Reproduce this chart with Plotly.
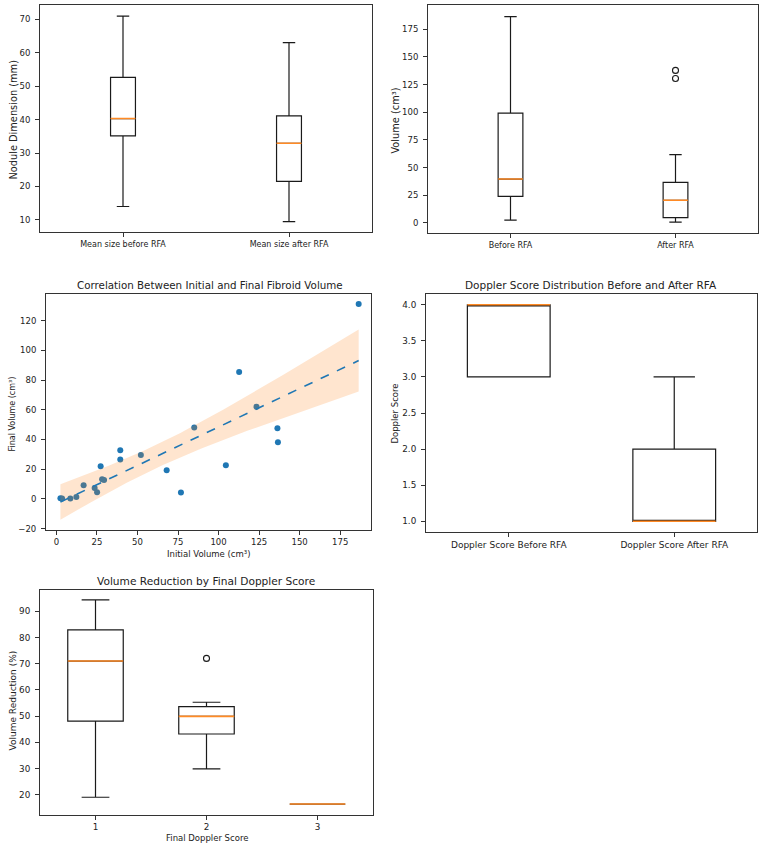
import numpy as np
import plotly.graph_objects as go

W, H = 767, 846
FONT = "DejaVu Sans"

# ---------------- Data ----------------
# Panel A: nodule dimension (mm)
size_labels = ["Mean size before RFA", "Mean size after RFA"]
size_lower = [14.0, 9.5]
size_q1 = [35.1, 21.5]
size_median = [40.3, 32.9]
size_q3 = [52.6, 41.1]
size_upper = [70.9, 63.0]

# Panel B: volume (cm³)
vol_labels = ["Before RFA", "After RFA"]
vol_lower = [2.4, 0.6]
vol_q1 = [24.0, 4.8]
vol_median = [39.6, 20.4]
vol_q3 = [99.2, 36.6]
vol_upper = [186.4, 61.7]
vol_outlier_pos = [2, 2]
vol_outlier_val = [130.4, 137.8]

# Panel C: initial vs final volume
initial_volume = [2.5, 3.5, 8.6, 12.3, 16.8, 23.6, 25.1, 27.3, 28.2, 29.4, 39.4, 39.4,
                  52.1, 68.0, 76.8, 85.0, 104.5, 112.7, 123.4, 136.3, 136.6, 186.4]
final_volume = [0.4, 0.2, 0.3, 1.3, 9.2, 7.4, 4.5, 21.9, 13.3, 12.7, 32.7, 26.5,
                29.6, 19.3, 4.3, 48.1, 22.6, 85.3, 62.0, 47.5, 38.1, 131.2]
T_CRIT = 2.086  # t(0.975, df=20)

# Panel D: Doppler score
dop_labels = ["Doppler Score Before RFA", "Doppler Score After RFA"]
dop_lower = [3.0, 1.0]
dop_q1 = [3.0, 1.0]
dop_median = [4.0, 1.0]
dop_q3 = [4.0, 2.0]
dop_upper = [4.0, 3.0]

# Panel E: volume reduction by final Doppler score
red_labels = ["1", "2", "3"]
red_lower = [19.1, 29.9, 16.5]
red_q1 = [48.1, 43.2, 16.5]
red_median = [71.0, 49.9, 16.5]
red_q3 = [82.9, 53.6, 16.5]
red_upper = [94.3, 55.3, 16.5]
red_outlier_pos = [2]
red_outlier_val = [72.0]

# ---------------- Helpers ----------------
def fx(px):
    return px / W

def fy(py):
    return 1 - py / H

fig = go.Figure()
BOXLINE = "#1a1a1a"
ORANGE = "#ff8a24"
BLUE = "#1f77b4"


def add_box(xa, ya, pos, q1, med, q3, lo, hi, width):
    fig.add_trace(go.Box(
        x=pos, q1=q1, median=med, q3=q3, lowerfence=lo, upperfence=hi,
        width=width, whiskerwidth=0.5, fillcolor="rgba(0,0,0,0)",
        line=dict(color=BOXLINE, width=1.2), boxpoints=False,
        xaxis=xa, yaxis=ya, showlegend=False, hoverinfo="skip"))
    mx, my = [], []
    for p, m in zip(pos, med):
        mx += [p - width / 2, p + width / 2, None]
        my += [m, m, None]
    fig.add_trace(go.Scatter(x=mx, y=my, mode="lines",
                             line=dict(color=ORANGE, width=1.6),
                             xaxis=xa, yaxis=ya, showlegend=False, hoverinfo="skip"))


def add_outliers(xa, ya, pos, vals):
    fig.add_trace(go.Scatter(x=pos, y=vals, mode="markers",
                             marker=dict(symbol="circle-open", color=BOXLINE, size=6,
                                         line=dict(width=1.1)),
                             xaxis=xa, yaxis=ya, showlegend=False, hoverinfo="skip"))


# Panel A
add_box("x", "y", [1, 2], size_q1, size_median, size_q3, size_lower, size_upper, 0.15)
# Panel B
add_box("x2", "y2", [1, 2], vol_q1, vol_median, vol_q3, vol_lower, vol_upper, 0.15)
add_outliers("x2", "y2", vol_outlier_pos, vol_outlier_val)

# Panel C
xv = np.array(initial_volume)
yv = np.array(final_volume)
fig.add_trace(go.Scatter(x=xv, y=yv, mode="markers",
                         marker=dict(color=BLUE, size=6),
                         xaxis="x3", yaxis="y3", showlegend=False))
slope, intercept = np.polyfit(xv, yv, 1)
xs = np.linspace(xv.min(), xv.max(), 100)
yhat = intercept + slope * xs
n = len(xv)
resid = yv - (intercept + slope * xv)
s = np.sqrt(np.sum(resid ** 2) / (n - 2))
sxx = np.sum((xv - xv.mean()) ** 2)
se = s * np.sqrt(1 / n + (xs - xv.mean()) ** 2 / sxx)
upper = yhat + T_CRIT * se
lower = yhat - T_CRIT * se
fig.add_trace(go.Scatter(x=np.concatenate([xs, xs[::-1]]),
                         y=np.concatenate([upper, lower[::-1]]),
                         fill="toself", fillcolor="rgba(255,127,14,0.2)",
                         line=dict(width=0), mode="lines",
                         xaxis="x3", yaxis="y3", showlegend=False, hoverinfo="skip"))
fig.add_trace(go.Scatter(x=xs, y=yhat, mode="lines",
                         line=dict(color=BLUE, width=1.6, dash="dash"),
                         xaxis="x3", yaxis="y3", showlegend=False, hoverinfo="skip"))

# Panel D
add_box("x4", "y4", [1, 2], dop_q1, dop_median, dop_q3, dop_lower, dop_upper, 0.5)

# Panel E
add_box("x5", "y5", [1, 2, 3], red_q1, red_median, red_q3, red_lower, red_upper, 0.5)
add_outliers("x5", "y5", red_outlier_pos, red_outlier_val)

# ---------------- Layout ----------------
panels = {
    "": (40, 372, 5, 233),
    "2": (428, 758, 5, 234),
    "3": (46, 371, 295, 532),
    "4": (426, 757, 295, 534),
    "5": (40, 373, 592, 818),
}

axis_common = dict(showline=True, linecolor="#333", linewidth=1, mirror=True,
                   ticks="outside", ticklen=4, tickwidth=1, tickcolor="#333",
                   showgrid=False, zeroline=False, fixedrange=True)

layout = dict(width=W, height=H, margin=dict(l=0, r=0, t=0, b=0),
              paper_bgcolor="white", plot_bgcolor="white",
              font=dict(family=FONT, color="#222"), showlegend=False,
              boxmode="overlay")

specs = {
    "": dict(x=dict(range=[0.5, 2.5], tickvals=[1, 2], ticktext=size_labels, tickfont_size=8),
             y=dict(range=[6.33, 74.26], tickvals=list(range(10, 71, 10)), tickfont_size=8.5)),
    "2": dict(x=dict(range=[0.5, 2.5], tickvals=[1, 2], ticktext=vol_labels, tickfont_size=8),
              y=dict(range=[-9.3, 196.9], tickvals=list(range(0, 176, 25)), tickfont_size=8.5)),
    "3": dict(x=dict(range=[-6.4, 194.0], tickvals=list(range(0, 176, 25)), tickfont_size=8.5,
                     ticklen=3.5),
              y=dict(range=[-21.0, 137.9], tickvals=list(range(-20, 121, 20)), tickfont_size=8.5)),
    "4": dict(x=dict(range=[0.5, 2.5], tickvals=[1, 2], ticktext=dop_labels, tickfont_size=9),
              y=dict(range=[0.85, 4.15], tickvals=[1.0, 1.5, 2.0, 2.5, 3.0, 3.5, 4.0],
                     tickformat=".1f", tickfont_size=8.8)),
    "5": dict(x=dict(range=[0.5, 3.5], tickvals=[1, 2, 3], ticktext=red_labels, tickfont_size=8.8,
                     ticklen=3.5),
              y=dict(range=[12.3, 98.1], tickvals=list(range(20, 91, 10)), tickfont_size=8.8)),
}

for k, (x0, x1, y0, y1) in panels.items():
    xa = dict(axis_common)
    xa["ticklabelstandoff"] = 0
    xa.update(specs[k]["x"])
    xa["domain"] = [fx(x0), fx(x1)]
    xa["anchor"] = "y" + k
    ya = dict(axis_common)
    ya["ticklabelstandoff"] = 3
    ya.update(specs[k]["y"])
    ya["domain"] = [fy(y1), fy(y0)]
    ya["anchor"] = "x" + k
    layout["xaxis" + k] = xa
    layout["yaxis" + k] = ya


def txt(x, y, s, size, angle=0):
    return dict(x=fx(x), y=fy(y), xref="paper", yref="paper", text=s, showarrow=False,
                textangle=angle, font=dict(size=size, family=FONT, color="#222"),
                xanchor="center", yanchor="middle")


annotations = [
    # Panel A
    txt(14, 120, "Nodule Dimension (mm)", 9.8, -90),
    # Panel B
    txt(396, 121, "Volume (cm³)", 9.8, -90),
    # Panel C
    txt(210, 286, "Correlation Between Initial and Final Fibroid Volume", 10.3),
    txt(13, 416, "Final Volume (cm³)", 8, -90),
    txt(209, 555.5, "Initial Volume (cm³)", 8.5),
    # Panel D
    txt(591, 286, "Doppler Score Distribution Before and After RFA", 10.5),
    txt(395, 415, "Doppler Score", 8.5, -90),
    # Panel E
    txt(206, 583, "Volume Reduction by Final Doppler Score", 10.6),
    txt(13, 703, "Volume Reduction (%)", 9, -90),
    txt(207, 840.5, "Final Doppler Score", 8.5),
]
layout["annotations"] = annotations

fig.update_layout(**layout)
fig.write_html("out.html")
